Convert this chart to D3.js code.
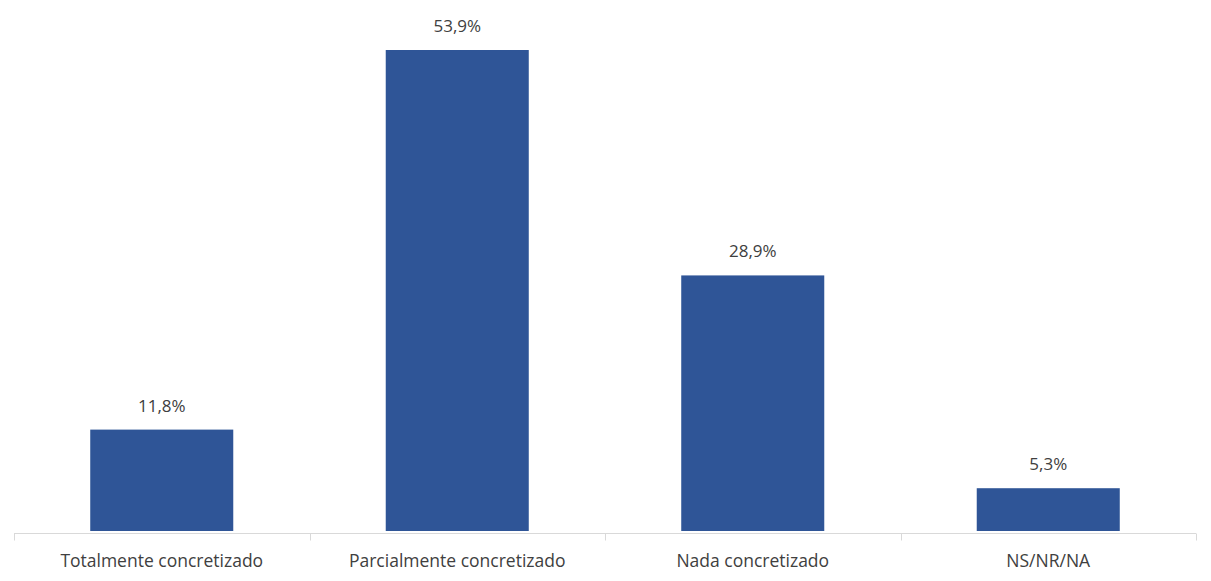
<!DOCTYPE html>
<meta charset="utf-8">
<style>
body { margin: 0; background: #fff; }
text { font-family: "Open Sans", sans-serif; fill: #404040; }
.axis line, .axis path { stroke: #d9d9d9; }
</style>
<script src="https://cdn.jsdelivr.net/npm/d3@7"></script>
<body>
<script>

var categories = ["Totalmente concretizado", "Parcialmente concretizado", "Nada concretizado", "NS/NR/NA"];
var values = [11.8, 53.9, 28.9, 5.3];
var labels = ["11,8%", "53,9%", "28,9%", "5,3%"];

var width = 1211, height = 581;
var axisY = 533.5;

var svg = d3.select("body").append("svg")
    .attr("width", width)
    .attr("height", height);

var x = d3.scaleBand()
    .domain(categories)
    .range([14, 1196])
    .paddingInner(0.516)
    .paddingOuter(0.258);

var y = d3.scaleLinear()
    .domain([0, 53.9])
    .range([536, 50]);

// bars
svg.selectAll("rect.bar")
    .data(values)
    .enter().append("rect")
    .attr("class", "bar")
    .attr("x", function(d, i) { return x(categories[i]); })
    .attr("y", function(d) { return y(d); })
    .attr("width", x.bandwidth())
    .attr("height", function(d) { return axisY - 2.5 - y(d); })
    .attr("fill", "#2f5597");

// value labels
svg.selectAll("text.val")
    .data(values)
    .enter().append("text")
    .attr("class", "val")
    .attr("x", function(d, i) { return x(categories[i]) + x.bandwidth() / 2; })
    .attr("y", function(d) { return y(d) - 18; })
    .attr("text-anchor", "middle")
    .style("font-size", "17px")
    .text(function(d, i) { return labels[i]; });

// axis line with ticks between categories
var g = svg.append("g").attr("class", "axis");
g.append("line")
    .attr("x1", 14).attr("x2", 1196)
    .attr("y1", axisY).attr("y2", axisY);

var bounds = d3.range(categories.length + 1).map(function(i) { return 14 + i * (1182 / categories.length); });
g.selectAll("line.tick")
    .data(bounds)
    .enter().append("line")
    .attr("class", "tick")
    .attr("x1", function(d) { return Math.round(d) + 0.5; })
    .attr("x2", function(d) { return Math.round(d) + 0.5; })
    .attr("y1", axisY).attr("y2", axisY + 7);

svg.selectAll("text.cat")
    .data(categories)
    .enter().append("text")
    .attr("class", "cat")
    .attr("x", function(d) { return x(d) + x.bandwidth() / 2; })
    .attr("y", 567)
    .attr("text-anchor", "middle")
    .style("font-size", "17.5px")
    .text(function(d) { return d; });

</script>
</body>
